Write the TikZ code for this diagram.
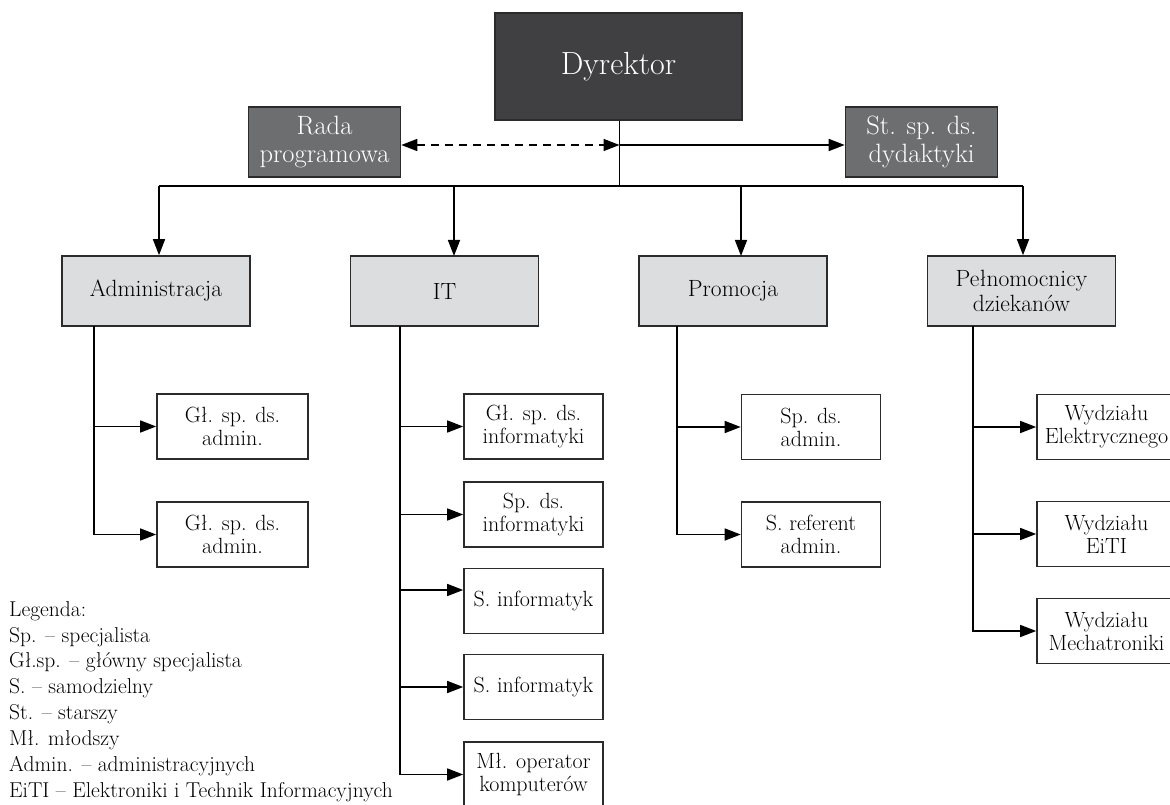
\documentclass[tikz,border=0pt]{standalone}
\usepackage{fontspec}
\usetikzlibrary{arrows.meta,calc}
\definecolor{darkbox}{HTML}{404042}
\definecolor{midbox}{HTML}{6D6E70}
\definecolor{lightbox}{HTML}{DCDDDF}
\definecolor{edgecol}{HTML}{2B2B2B}
\begin{document}
\begin{tikzpicture}[x=1pt,y=-1pt,
  box/.style={draw=edgecol, line width=1.6pt, rectangle, inner sep=0pt, align=center},
  topbox/.style={box, fill=darkbox, text=white, minimum width=247pt, minimum height=107pt, font=\fontsize{32}{36}\selectfont},
  grbox/.style={box, fill=midbox, text=white, minimum width=152pt, minimum height=70pt, font=\fontsize{26.5}{27.5}\selectfont},
  deptbox/.style={box, fill=lightbox, minimum width=188pt, minimum height=70pt, font=\fontsize{23.5}{25.5}\selectfont},
  unitbox/.style={box, fill=white, minimum width=139pt, minimum height=65pt, font=\fontsize{22}{23}\selectfont},
  conn/.style={draw=black, line width=1.5pt},
  arr/.style={conn, -{Triangle[length=16pt,width=12pt]}},
  darr/.style={conn, dash pattern=on 8pt off 6pt, {Triangle[length=16pt,width=12pt]}-{Triangle[length=16pt,width=12pt]}},
]
\useasboundingbox (0,0) rectangle (1170,805);

% top level
\node[topbox] (dyr) at (618.5,66.5) {Dyrektor};
\node[grbox] (rada) at (324.5,142) {Rada\\programowa};
\node[grbox] (stsp) at (921.5,142) {St. sp. ds.\\dydaktyki};

% departments
\node[deptbox] (adm) at (156,291) {Administracja};
\node[deptbox] (it) at (444.5,291) {IT};
\node[deptbox] (prom) at (733,291) {Promocja};
\node[deptbox] (peln) at (1021.5,291) {Pełnomocnicy\\dziekanów};

% units
\node[unitbox, minimum width=151pt] (adm1) at (232.5,426.5) {Gł. sp. ds.\\admin.};
\node[unitbox, minimum width=151pt] (adm2) at (232.5,534.5) {Gł. sp. ds.\\admin.};

\node[unitbox] (it1) at (533.5,426.5) {Gł. sp. ds.\\informatyki};
\node[unitbox] (it2) at (533.5,514.5) {Sp. ds.\\informatyki};
\node[unitbox] (it3) at (533.5,601) {S. informatyk};
\node[unitbox] (it4) at (533.5,687) {S. informatyk};
\node[unitbox] (it5) at (533.5,774.5) {Mł. operator\\komputerów};

\node[unitbox] (prom1) at (811,427) {Sp. ds.\\admin.};
\node[unitbox] (prom2) at (811,534.5) {S. referent\\admin.};

\node[unitbox] (w1) at (1106.5,427) {Wydziału\\Elektrycznego};
\node[unitbox] (w2) at (1106.5,534) {Wydziału\\EiTI};
\node[unitbox] (w3) at (1106.5,631) {Wydziału\\Mechatroniki};

% top connectors
\coordinate (hub) at (619.5,145);
\coordinate (busC) at (619.5,186);
\coordinate (busL) at (159,186);
\coordinate (busR) at (1023,186);
\draw[conn] (dyr.south -| hub) -- (busC);
\draw[darr] (rada.east |- hub) -- (hub);
\draw[arr] (hub) -- (stsp.west |- hub);
\draw[conn] (busL) -- (busR);
\draw[arr] (busL) -- (busL |- adm.north);
\draw[arr] (454,186) -- (454,256);
\draw[arr] (741,186) -- (741,256);
\draw[arr] (busR) -- (busR |- peln.north);

% trunks
\coordinate (admT) at (94,326);
\coordinate (itT) at (400,326);
\coordinate (promT) at (677,326);
\coordinate (pelnT) at (973,326);

\draw[arr] (admT) |- (adm2.west);
\draw[arr] (admT |- adm1.west) -- (adm1.west);

\draw[arr] (itT) |- (it5.west);
\draw[arr] (itT |- it1.west) -- (it1.west);
\draw[arr] (itT |- it2.west) -- (it2.west);
\draw[arr] (itT |- 0,590) -- (it3.west |- 0,590);
\draw[arr] (itT |- it4.west) -- (it4.west);

\draw[arr] (promT) |- (prom2.west);
\draw[arr] (promT |- prom1.west) -- (prom1.west);

\draw[arr] (pelnT) |- (w3.west);
\draw[arr] (pelnT |- w1.west) -- (w1.west);
\draw[arr] (pelnT |- w2.west) -- (w2.west);

% legend
\node[anchor=north west, align=left, inner sep=0pt, font=\fontsize{21.5}{25.9}\selectfont] (leg) at (9,601)
 {Legenda:\\
  Sp. – specjalista\\
  Gł.sp. – główny specjalista\\
  S. – samodzielny\\
  St. – starszy\\
  Mł. młodszy\\
  Admin. – administracyjnych\\
  EiTI – Elektroniki i Technik Informacyjnych};
\end{tikzpicture}
\end{document}
